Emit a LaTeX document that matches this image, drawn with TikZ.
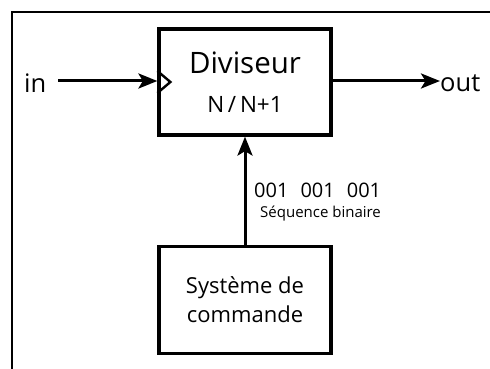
\documentclass[tikz,border=0pt]{standalone}
\usepackage{fontspec}
\setmainfont{Open Sans}
\usetikzlibrary{arrows.meta}
\begin{document}
\begin{tikzpicture}[x=1pt,y=-1pt,
  blk/.style={draw,line width=3.2pt,minimum width=172pt,inner sep=0pt},
  conn/.style={line width=3pt,-{Stealth[length=19pt,width=15pt,inset=4.5pt]}},
  lbl/.style={inner sep=0pt}]
\useasboundingbox (0,0) rectangle (490,369);
\fill[white] (0,0) rectangle (490,369);
% frame
\draw[line width=2.6pt] (12,372) -- (12,12) -- (495,12);
% divider box
\node[blk,minimum height=106pt] (div) at (245,82) {};
\node[lbl,font=\fontsize{29.5}{32}\selectfont] (t1) at (245,63) {Diviseur};
\node[lbl,font=\fontsize{22.5}{24}\selectfont] (t2) at (245,104) {N\,/\,N+1};
% clock triangle
\draw[line width=2.4pt] (div.west) ++(0,-11) -- ++(13,11) -- ++(-13,11);
% control box
\node[blk,minimum height=107pt,align=center,font=\fontsize{22}{29}\selectfont] (cmd) at (245,300) {Système de\\commande};
% in / out
\node[lbl,anchor=west,font=\fontsize{25.5}{28}\selectfont] (in) at (24,83) {in};
\node[lbl,anchor=west,font=\fontsize{25.5}{28}\selectfont] (out) at (440,83) {out};
\coordinate (inS) at (58,81);
\coordinate (outE) at (440,81);
\draw[conn] (inS) -- (div.west |- inS);
\draw[conn] (div.east |- outE) -- (outE);
% vertical
\draw[conn] (cmd.north) -- (div.south);
\node[lbl,anchor=west,font=\fontsize{20}{22}\selectfont] (seq) at (254,190) {001\hspace{0.6em}001\hspace{0.6em}001};
\node[lbl,anchor=west,font=\fontsize{15}{18}\selectfont] (sb) at (260,214) {Séquence binaire};
\end{tikzpicture}
\end{document}
